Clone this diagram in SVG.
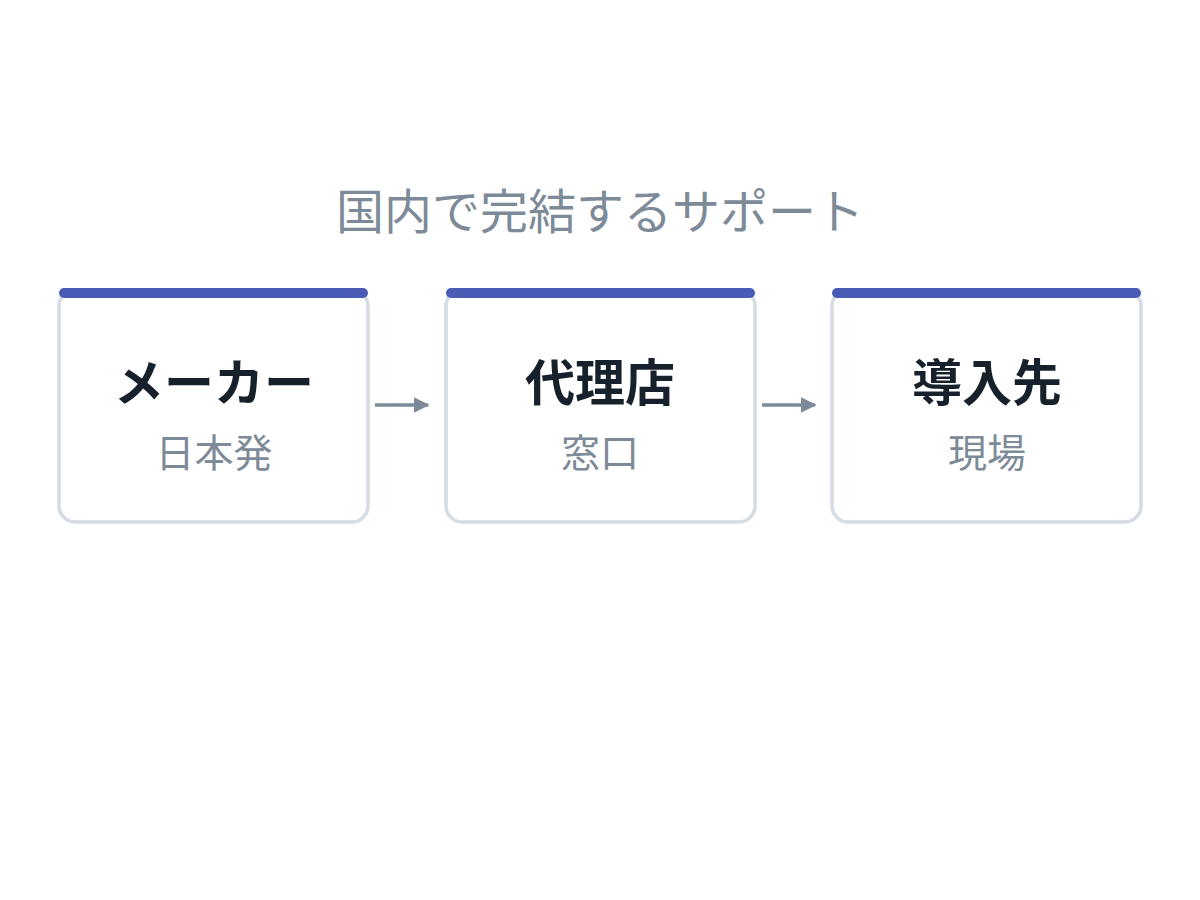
<svg xmlns="http://www.w3.org/2000/svg" width="1200" height="900" viewBox="0 0 1200 900">
<style>
.box{fill:#ffffff;stroke:#d5dce3;stroke-width:3.5}
.bar{fill:#4a5cb5}
.t{font-family:"Noto Sans CJK JP","Noto Sans",sans-serif;text-anchor:middle}
.title{font-size:48px;fill:#7d8a97}
.h{font-size:50px;font-weight:bold;fill:#17212b}
.s{font-size:39px;fill:#7d8a97}
.c{stroke:#7d8a97;stroke-width:3.5;fill:none}
</style>
<defs>
<marker id="ah" viewBox="0 0 10 10" refX="9" refY="5" markerWidth="4.5" markerHeight="4.5" orient="auto" markerUnits="strokeWidth">
<path d="M0,0 L10,5 L0,10 z" fill="#7d8a97"/>
</marker>
</defs>
<rect width="1200" height="900" fill="#ffffff"/>
<text class="t title" x="600" y="229">国内で完結するサポート</text>
<g id="node-maker">
<rect class="box" x="59" y="290" width="309" height="232" rx="16"/>
<rect class="bar" x="59" y="288" width="309" height="10" rx="5"/>
<text class="t h" x="214" y="401">メーカー</text>
<text class="t s" x="214" y="467">日本発</text>
</g>
<g id="node-agency">
<rect class="box" x="446" y="290" width="309" height="232" rx="16"/>
<rect class="bar" x="446" y="288" width="309" height="10" rx="5"/>
<text class="t h" x="600" y="401">代理店</text>
<text class="t s" x="600" y="467">窓口</text>
</g>
<g id="node-site">
<rect class="box" x="832" y="290" width="309" height="232" rx="16"/>
<rect class="bar" x="832" y="288" width="309" height="10" rx="5"/>
<text class="t h" x="987" y="401">導入先</text>
<text class="t s" x="987" y="467">現場</text>
</g>
<g id="connectors">
<line class="c" x1="375" y1="405" x2="428" y2="405" marker-end="url(#ah)"/>
<line class="c" x1="762" y1="405" x2="815" y2="405" marker-end="url(#ah)"/>
</g>
</svg>
